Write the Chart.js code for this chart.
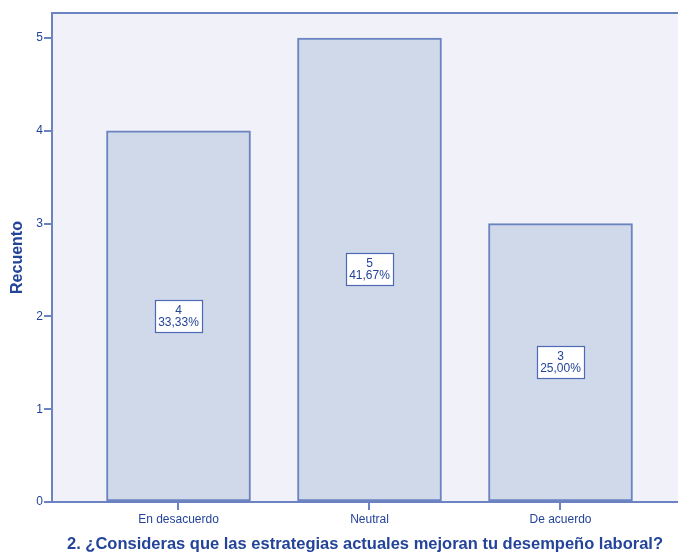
<!DOCTYPE html>
<html>
<head>
<meta charset="utf-8">
<script src="https://cdn.jsdelivr.net/npm/chart.js@4"></script>
<style>
  html, body { margin: 0; padding: 0; background: #ffffff; }
  #wrap { width: 678px; height: 554px; }
</style>
</head>
<body>
<div id="wrap"><canvas id="barChart" width="678" height="554"></canvas></div>
<script>
// ---- data ----
const categories = ['En desacuerdo', 'Neutral', 'De acuerdo'];
const counts = [4, 5, 3];
const percentLabels = ['33,33%', '41,67%', '25,00%'];
const yTicks = [0, 1, 2, 3, 4, 5];

const axisTitleY = 'Recuento';
const axisTitleX = '2. ¿Consideras que las estrategias actuales mejoran tu desempeño laboral?';

// ---- colours ----
const textBlue = '#24449a';
const lineBlue = '#6b83c0';
const plotBg = '#f1f2f9';
const barFill = '#d0d9ea';

// plot background + top frame line
const plotFrame = {
  id: 'plotFrame',
  beforeDraw(chart) {
    const { ctx, chartArea: a } = chart;
    ctx.save();
    ctx.fillStyle = plotBg;
    ctx.fillRect(a.left, a.top, a.right - a.left, a.bottom - a.top);
    ctx.strokeStyle = lineBlue;
    ctx.lineWidth = 2;
    ctx.beginPath();
    ctx.moveTo(a.left, a.top);
    ctx.lineTo(a.right, a.top);
    ctx.stroke();
    ctx.restore();
  }
};

// boxed count / percent label in the middle of each bar
const boxLabels = {
  id: 'boxLabels',
  afterDatasetsDraw(chart) {
    const { ctx } = chart;
    const meta = chart.getDatasetMeta(0);
    ctx.save();
    ctx.font = '12px "Liberation Sans", Arial, sans-serif';
    ctx.textAlign = 'center';
    ctx.textBaseline = 'middle';
    meta.data.forEach(function (bar, i) {
      const cx = bar.x;
      const cy = (bar.y + bar.base) / 2;
      const w = 47, h = 32;
      const x0 = Math.round(cx - w / 2) + 0.5;
      const y0 = Math.round(cy - h / 2) + 0.5;
      ctx.fillStyle = '#ffffff';
      ctx.fillRect(x0, y0, w, h);
      ctx.strokeStyle = '#4d6ab5';
      ctx.lineWidth = 1.2;
      ctx.strokeRect(x0, y0, w, h);
      ctx.fillStyle = textBlue;
      ctx.fillText(String(counts[i]), cx, y0 + 10);
      ctx.fillText(percentLabels[i], cx, y0 + 22);
    });
    ctx.restore();
  }
};

const ctx = document.getElementById('barChart').getContext('2d');

new Chart(ctx, {
  type: 'bar',
  data: {
    datasets: [{
      label: axisTitleY,
      data: counts.map(function (v, i) { return { x: i, y: v }; }),
      backgroundColor: barFill,
      borderColor: lineBlue,
      borderWidth: 2,
      borderSkipped: false,
      barThickness: 144
    }]
  },
  options: {
    responsive: false,
    animation: false,
    layout: { padding: { top: 13, right: 0, bottom: 0, left: 0 } },
    plugins: {
      legend: { display: false },
      tooltip: { enabled: false }
    },
    scales: {
      x: {
        type: 'linear',
        offset: false,
        min: -0.6623,
        max: 2.6152,
        afterBuildTicks: function (axis) {
          axis.ticks = categories.map(function (c, i) { return { value: i }; });
        },
        afterFit: function (axis) { axis.height = 52; },
        grid: {
          offset: false,
          drawOnChartArea: false,
          drawTicks: true,
          tickLength: 8,
          color: lineBlue,
          lineWidth: 2
        },
        border: { display: true, color: lineBlue, width: 2 },
        ticks: {
          padding: 2,
          color: textBlue,
          font: { family: '"Liberation Sans", Arial, sans-serif', size: 12 },
          maxRotation: 0,
          callback: function (v) { return categories[v]; }
        },
        title: {
          display: true,
          text: axisTitleX,
          color: textBlue,
          font: { family: '"Liberation Sans", Arial, sans-serif', size: 16.5, weight: 'bold' },
          padding: { top: 0, bottom: 0 }
        }
      },
      y: {
        min: 0,
        max: 5.269,
        afterBuildTicks: function (axis) {
          axis.ticks = yTicks.map(function (v) { return { value: v }; });
        },
        afterFit: function (axis) { axis.width = 52; },
        grid: {
          drawOnChartArea: false,
          drawTicks: true,
          tickLength: 8,
          color: lineBlue,
          lineWidth: 2
        },
        border: { display: true, color: lineBlue, width: 2 },
        ticks: {
          padding: 1,
          color: textBlue,
          font: { family: '"Liberation Sans", Arial, sans-serif', size: 12 }
        },
        title: {
          display: true,
          text: axisTitleY,
          color: textBlue,
          font: { family: '"Liberation Sans", Arial, sans-serif', size: 16, weight: 'bold' },
          padding: { top: 8, bottom: 0 }
        }
      }
    }
  },
  plugins: [plotFrame, boxLabels]
});
</script>
</body>
</html>
